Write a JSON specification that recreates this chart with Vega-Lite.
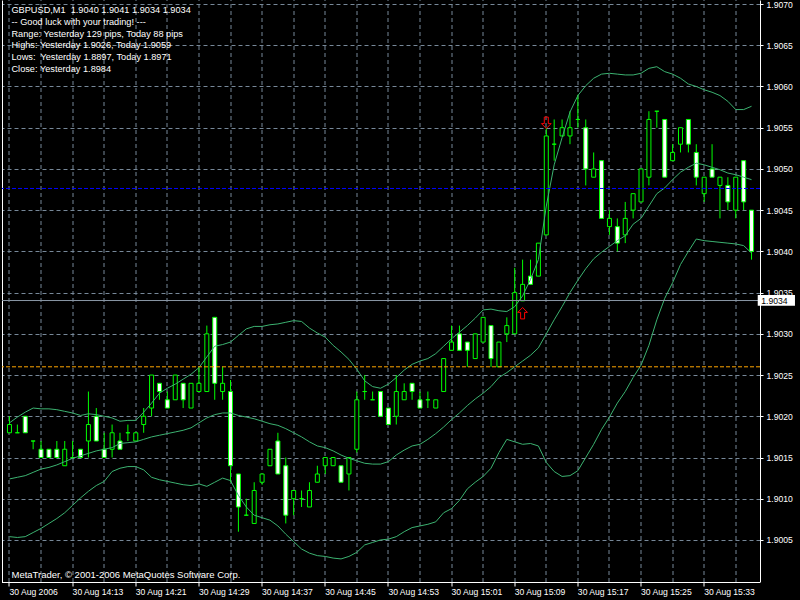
{
"$schema":"https://vega.github.io/schema/vega-lite/v6.json",
"width":758,"height":582,"autosize":"none",
"padding":{"left":2,"top":0,"right":40,"bottom":18},
"background":"#000000",
"config":{"view":{"stroke":null},"font":"Liberation Sans"},
"data":{"values":[
{"t":"2006-08-30 14:05","o":1.9018,"h":1.902,"l":1.9018,"c":1.9019,"u":1.90192,"m":1.90124,"d":1.90054},
{"t":"2006-08-30 14:06","o":1.9018,"h":1.9019,"l":1.9018,"c":1.9018,"u":1.90199,"m":1.90126,"d":1.90053},
{"t":"2006-08-30 14:07","o":1.902,"h":1.902,"l":1.9018,"c":1.9018,"u":1.90205,"m":1.90128,"d":1.90054},
{"t":"2006-08-30 14:08","o":1.9017,"h":1.9017,"l":1.9016,"c":1.9017,"u":1.9021,"m":1.90132,"d":1.90059},
{"t":"2006-08-30 14:09","o":1.9016,"h":1.9017,"l":1.9015,"c":1.9015,"u":1.90209,"m":1.90136,"d":1.90064},
{"t":"2006-08-30 14:10","o":1.9016,"h":1.9016,"l":1.9015,"c":1.9015,"u":1.90209,"m":1.90138,"d":1.9007},
{"t":"2006-08-30 14:11","o":1.9016,"h":1.9017,"l":1.9015,"c":1.9015,"u":1.90208,"m":1.90141,"d":1.90076},
{"t":"2006-08-30 14:12","o":1.9014,"h":1.9017,"l":1.9014,"c":1.9016,"u":1.90206,"m":1.90145,"d":1.90083},
{"t":"2006-08-30 14:13","o":1.9015,"h":1.9017,"l":1.9015,"c":1.9015,"u":1.90204,"m":1.90149,"d":1.90092},
{"t":"2006-08-30 14:14","o":1.9016,"h":1.9016,"l":1.9015,"c":1.9015,"u":1.90201,"m":1.90152,"d":1.90101},
{"t":"2006-08-30 14:15","o":1.9017,"h":1.9023,"l":1.9015,"c":1.9019,"u":1.90203,"m":1.90155,"d":1.90109},
{"t":"2006-08-30 14:16","o":1.902,"h":1.9021,"l":1.9017,"c":1.9017,"u":1.90202,"m":1.90158,"d":1.90116},
{"t":"2006-08-30 14:17","o":1.9016,"h":1.9018,"l":1.9015,"c":1.9015,"u":1.902,"m":1.9016,"d":1.90121},
{"t":"2006-08-30 14:18","o":1.9016,"h":1.9019,"l":1.9015,"c":1.9018,"u":1.90198,"m":1.90162,"d":1.90133},
{"t":"2006-08-30 14:19","o":1.9017,"h":1.9018,"l":1.9016,"c":1.9016,"u":1.90194,"m":1.90167,"d":1.90137},
{"t":"2006-08-30 14:20","o":1.9018,"h":1.9019,"l":1.9017,"c":1.9018,"u":1.90195,"m":1.90168,"d":1.90139},
{"t":"2006-08-30 14:21","o":1.9017,"h":1.9018,"l":1.9017,"c":1.9018,"u":1.90195,"m":1.90169,"d":1.90139},
{"t":"2006-08-30 14:22","o":1.9019,"h":1.9021,"l":1.9018,"c":1.902,"u":1.90205,"m":1.90172,"d":1.90135},
{"t":"2006-08-30 14:23","o":1.9021,"h":1.9025,"l":1.902,"c":1.9025,"u":1.90216,"m":1.90175,"d":1.90126},
{"t":"2006-08-30 14:24","o":1.9024,"h":1.9024,"l":1.9022,"c":1.9023,"u":1.90228,"m":1.90177,"d":1.90123},
{"t":"2006-08-30 14:25","o":1.9022,"h":1.9023,"l":1.9021,"c":1.9021,"u":1.90234,"m":1.90179,"d":1.90121},
{"t":"2006-08-30 14:26","o":1.9022,"h":1.9025,"l":1.9022,"c":1.9025,"u":1.90239,"m":1.90181,"d":1.90119},
{"t":"2006-08-30 14:27","o":1.9024,"h":1.9024,"l":1.9021,"c":1.9022,"u":1.90245,"m":1.90183,"d":1.90117},
{"t":"2006-08-30 14:28","o":1.9021,"h":1.9024,"l":1.9021,"c":1.9024,"u":1.90251,"m":1.90186,"d":1.90116},
{"t":"2006-08-30 14:29","o":1.9023,"h":1.9026,"l":1.9023,"c":1.9024,"u":1.90259,"m":1.90192,"d":1.90118},
{"t":"2006-08-30 14:30","o":1.9023,"h":1.9031,"l":1.9023,"c":1.903,"u":1.90272,"m":1.90198,"d":1.90115},
{"t":"2006-08-30 14:31","o":1.9032,"h":1.9032,"l":1.9022,"c":1.9024,"u":1.90285,"m":1.90202,"d":1.9012},
{"t":"2006-08-30 14:32","o":1.9023,"h":1.9026,"l":1.9022,"c":1.9024,"u":1.90287,"m":1.90204,"d":1.90125},
{"t":"2006-08-30 14:33","o":1.9023,"h":1.90244,"l":1.9012,"c":1.9014,"u":1.9029,"m":1.90204,"d":1.90122},
{"t":"2006-08-30 14:34","o":1.9013,"h":1.9013,"l":1.9006,"c":1.9009,"u":1.90298,"m":1.90201,"d":1.90104},
{"t":"2006-08-30 14:35","o":1.9008,"h":1.901,"l":1.9008,"c":1.9008,"u":1.90306,"m":1.90199,"d":1.9009},
{"t":"2006-08-30 14:36","o":1.9007,"h":1.9012,"l":1.9007,"c":1.9011,"u":1.90309,"m":1.90197,"d":1.9008},
{"t":"2006-08-30 14:37","o":1.9012,"h":1.9013,"l":1.90117,"c":1.9013,"u":1.90309,"m":1.90194,"d":1.90077},
{"t":"2006-08-30 14:38","o":1.9014,"h":1.9016,"l":1.9014,"c":1.9016,"u":1.90311,"m":1.90191,"d":1.90074},
{"t":"2006-08-30 14:39","o":1.9017,"h":1.9018,"l":1.9013,"c":1.9013,"u":1.90312,"m":1.90189,"d":1.90067},
{"t":"2006-08-30 14:40","o":1.9014,"h":1.9015,"l":1.9007,"c":1.9008,"u":1.90314,"m":1.90185,"d":1.90057},
{"t":"2006-08-30 14:41","o":1.901,"h":1.9011,"l":1.9008,"c":1.9011,"u":1.90316,"m":1.9018,"d":1.90048},
{"t":"2006-08-30 14:42","o":1.901,"h":1.9011,"l":1.9009,"c":1.901,"u":1.90315,"m":1.90175,"d":1.90039},
{"t":"2006-08-30 14:43","o":1.9009,"h":1.9012,"l":1.9009,"c":1.9011,"u":1.90307,"m":1.90169,"d":1.90034},
{"t":"2006-08-30 14:44","o":1.9012,"h":1.9014,"l":1.9012,"c":1.9013,"u":1.90301,"m":1.90164,"d":1.90031},
{"t":"2006-08-30 14:45","o":1.9014,"h":1.9015,"l":1.9013,"c":1.9015,"u":1.90296,"m":1.90162,"d":1.9003},
{"t":"2006-08-30 14:46","o":1.9014,"h":1.9015,"l":1.9014,"c":1.9015,"u":1.90286,"m":1.90158,"d":1.90028},
{"t":"2006-08-30 14:47","o":1.9014,"h":1.9014,"l":1.9012,"c":1.9012,"u":1.90278,"m":1.90153,"d":1.90027},
{"t":"2006-08-30 14:48","o":1.9013,"h":1.9015,"l":1.9011,"c":1.9015,"u":1.90269,"m":1.90149,"d":1.9003},
{"t":"2006-08-30 14:49","o":1.9016,"h":1.9023,"l":1.90156,"c":1.9022,"u":1.90257,"m":1.90146,"d":1.90035},
{"t":"2006-08-30 14:50","o":1.9023,"h":1.9025,"l":1.9022,"c":1.9023,"u":1.90243,"m":1.90143,"d":1.90044},
{"t":"2006-08-30 14:51","o":1.9022,"h":1.9023,"l":1.9022,"c":1.9022,"u":1.90236,"m":1.90142,"d":1.90047},
{"t":"2006-08-30 14:52","o":1.9023,"h":1.9023,"l":1.902,"c":1.902,"u":1.90234,"m":1.90142,"d":1.9005},
{"t":"2006-08-30 14:53","o":1.9021,"h":1.9021,"l":1.9019,"c":1.9019,"u":1.90239,"m":1.90145,"d":1.90051},
{"t":"2006-08-30 14:54","o":1.902,"h":1.9025,"l":1.9019,"c":1.9023,"u":1.90247,"m":1.90153,"d":1.90054},
{"t":"2006-08-30 14:55","o":1.9022,"h":1.9024,"l":1.9022,"c":1.9023,"u":1.90256,"m":1.90159,"d":1.9006},
{"t":"2006-08-30 14:56","o":1.9024,"h":1.9024,"l":1.9022,"c":1.9023,"u":1.90263,"m":1.90164,"d":1.90065},
{"t":"2006-08-30 14:57","o":1.9022,"h":1.9023,"l":1.9021,"c":1.9021,"u":1.90267,"m":1.90166,"d":1.90067},
{"t":"2006-08-30 14:58","o":1.9022,"h":1.9023,"l":1.9021,"c":1.9022,"u":1.9027,"m":1.90172,"d":1.90069},
{"t":"2006-08-30 14:59","o":1.9021,"h":1.9022,"l":1.9021,"c":1.9022,"u":1.90276,"m":1.90179,"d":1.90072},
{"t":"2006-08-30 15:00","o":1.9023,"h":1.9027,"l":1.9023,"c":1.9027,"u":1.90285,"m":1.90187,"d":1.90083},
{"t":"2006-08-30 15:01","o":1.9028,"h":1.9031,"l":1.9028,"c":1.9029,"u":1.90294,"m":1.90196,"d":1.90088},
{"t":"2006-08-30 15:02","o":1.903,"h":1.9031,"l":1.9028,"c":1.9028,"u":1.90302,"m":1.90204,"d":1.90098},
{"t":"2006-08-30 15:03","o":1.9029,"h":1.9029,"l":1.9026,"c":1.9028,"u":1.9031,"m":1.90213,"d":1.90112},
{"t":"2006-08-30 15:04","o":1.9027,"h":1.903,"l":1.9027,"c":1.903,"u":1.90319,"m":1.90221,"d":1.9012},
{"t":"2006-08-30 15:05","o":1.9029,"h":1.9032,"l":1.9029,"c":1.9032,"u":1.90329,"m":1.90228,"d":1.90127},
{"t":"2006-08-30 15:06","o":1.9031,"h":1.9031,"l":1.9026,"c":1.9027,"u":1.9033,"m":1.90236,"d":1.90137},
{"t":"2006-08-30 15:07","o":1.9026,"h":1.9029,"l":1.9026,"c":1.9029,"u":1.90328,"m":1.90247,"d":1.90156},
{"t":"2006-08-30 15:08","o":1.903,"h":1.9032,"l":1.9029,"c":1.9031,"u":1.90327,"m":1.90253,"d":1.90172},
{"t":"2006-08-30 15:09","o":1.903,"h":1.9038,"l":1.903,"c":1.9035,"u":1.90333,"m":1.9026,"d":1.90169},
{"t":"2006-08-30 15:10","o":1.9034,"h":1.9039,"l":1.9034,"c":1.9036,"u":1.90346,"m":1.90267,"d":1.90166},
{"t":"2006-08-30 15:11","o":1.9037,"h":1.9039,"l":1.9036,"c":1.9036,"u":1.90366,"m":1.90274,"d":1.90167},
{"t":"2006-08-30 15:12","o":1.9037,"h":1.9041,"l":1.9037,"c":1.9041,"u":1.9039,"m":1.90283,"d":1.90164},
{"t":"2006-08-30 15:13","o":1.9042,"h":1.9055,"l":1.9042,"c":1.9054,"u":1.90455,"m":1.903,"d":1.90144},
{"t":"2006-08-30 15:14","o":1.9053,"h":1.9056,"l":1.9051,"c":1.9053,"u":1.90505,"m":1.90317,"d":1.90133},
{"t":"2006-08-30 15:15","o":1.9054,"h":1.9056,"l":1.9054,"c":1.9055,"u":1.90538,"m":1.90333,"d":1.90127},
{"t":"2006-08-30 15:16","o":1.9054,"h":1.9057,"l":1.9053,"c":1.9055,"u":1.90569,"m":1.9035,"d":1.90128},
{"t":"2006-08-30 15:17","o":1.9056,"h":1.9059,"l":1.9055,"c":1.9056,"u":1.90589,"m":1.90365,"d":1.90134},
{"t":"2006-08-30 15:18","o":1.9055,"h":1.9056,"l":1.9048,"c":1.905,"u":1.90601,"m":1.90379,"d":1.9015},
{"t":"2006-08-30 15:19","o":1.9049,"h":1.9052,"l":1.9049,"c":1.905,"u":1.9061,"m":1.90391,"d":1.90166},
{"t":"2006-08-30 15:20","o":1.9051,"h":1.9051,"l":1.9044,"c":1.9044,"u":1.90615,"m":1.90399,"d":1.90184},
{"t":"2006-08-30 15:21","o":1.9043,"h":1.9045,"l":1.9042,"c":1.9044,"u":1.90616,"m":1.90406,"d":1.90199},
{"t":"2006-08-30 15:22","o":1.9043,"h":1.9044,"l":1.904,"c":1.9041,"u":1.90615,"m":1.90413,"d":1.90216},
{"t":"2006-08-30 15:23","o":1.9042,"h":1.9046,"l":1.9041,"c":1.9044,"u":1.90614,"m":1.90419,"d":1.9023},
{"t":"2006-08-30 15:24","o":1.9045,"h":1.9047,"l":1.9044,"c":1.9047,"u":1.90614,"m":1.90433,"d":1.90247},
{"t":"2006-08-30 15:25","o":1.9046,"h":1.905,"l":1.9046,"c":1.905,"u":1.90616,"m":1.9044,"d":1.90262},
{"t":"2006-08-30 15:26","o":1.9049,"h":1.9057,"l":1.9048,"c":1.9056,"u":1.90622,"m":1.90455,"d":1.90286},
{"t":"2006-08-30 15:27","o":1.9057,"h":1.9057,"l":1.9055,"c":1.9057,"u":1.90624,"m":1.9047,"d":1.90317},
{"t":"2006-08-30 15:28","o":1.9056,"h":1.9056,"l":1.9049,"c":1.9049,"u":1.90618,"m":1.90477,"d":1.90343},
{"t":"2006-08-30 15:29","o":1.9051,"h":1.9053,"l":1.9051,"c":1.9052,"u":1.90615,"m":1.90487,"d":1.90362},
{"t":"2006-08-30 15:30","o":1.9053,"h":1.9055,"l":1.9052,"c":1.9055,"u":1.9061,"m":1.90496,"d":1.90384},
{"t":"2006-08-30 15:31","o":1.9056,"h":1.9056,"l":1.9052,"c":1.9053,"u":1.90603,"m":1.90502,"d":1.904},
{"t":"2006-08-30 15:32","o":1.9052,"h":1.9053,"l":1.9048,"c":1.9049,"u":1.906,"m":1.90507,"d":1.90415},
{"t":"2006-08-30 15:33","o":1.9047,"h":1.9049,"l":1.9046,"c":1.9049,"u":1.90596,"m":1.90505,"d":1.90413},
{"t":"2006-08-30 15:34","o":1.905,"h":1.9053,"l":1.9049,"c":1.9049,"u":1.90593,"m":1.90502,"d":1.90412},
{"t":"2006-08-30 15:35","o":1.9048,"h":1.9049,"l":1.9044,"c":1.9049,"u":1.90589,"m":1.90499,"d":1.90411},
{"t":"2006-08-30 15:36","o":1.9048,"h":1.9049,"l":1.9045,"c":1.9046,"u":1.90582,"m":1.90495,"d":1.9041},
{"t":"2006-08-30 15:37","o":1.9045,"h":1.9049,"l":1.9044,"c":1.9049,"u":1.90572,"m":1.90493,"d":1.90409},
{"t":"2006-08-30 15:38","o":1.9051,"h":1.9051,"l":1.9045,"c":1.9046,"u":1.90572,"m":1.9049,"d":1.90407},
{"t":"2006-08-30 15:39","o":1.9045,"h":1.9045,"l":1.9039,"c":1.904,"u":1.90576,"m":1.90487,"d":1.90398}
]},
"layer":[
{"mark":{"type":"rule","color":"#00ff00","strokeWidth":1},
 "encoding":{
  "x":{"field":"t","type":"temporal","scale":{"domain":[{"year":2006,"month":"Aug","date":30,"hours":14,"minutes":4,"seconds":41,"milliseconds":250},{"year":2006,"month":"Aug","date":30,"hours":15,"minutes":39,"seconds":26,"milliseconds":250}]},
   "axis":{"orient":"bottom","values":[
     {"year":2006,"month":"Aug","date":30,"hours":14,"minutes":5},
     {"year":2006,"month":"Aug","date":30,"hours":14,"minutes":13},
     {"year":2006,"month":"Aug","date":30,"hours":14,"minutes":21},
     {"year":2006,"month":"Aug","date":30,"hours":14,"minutes":29},
     {"year":2006,"month":"Aug","date":30,"hours":14,"minutes":37},
     {"year":2006,"month":"Aug","date":30,"hours":14,"minutes":45},
     {"year":2006,"month":"Aug","date":30,"hours":14,"minutes":53},
     {"year":2006,"month":"Aug","date":30,"hours":15,"minutes":1},
     {"year":2006,"month":"Aug","date":30,"hours":15,"minutes":9},
     {"year":2006,"month":"Aug","date":30,"hours":15,"minutes":17},
     {"year":2006,"month":"Aug","date":30,"hours":15,"minutes":25},
     {"year":2006,"month":"Aug","date":30,"hours":15,"minutes":33}],
    "labelExpr":"timeFormat(datum.value, '%H:%M') == '14:05' ? '30 Aug 2006' : timeFormat(datum.value, '%d %b %H:%M')",
    "grid":false,"domain":true,"domainColor":"#ffffff","domainWidth":1,"ticks":true,"tickColor":"#ffffff","tickSize":4,"tickWidth":1,
    "labelColor":"#ffffff","labelFont":"Liberation Sans","labelFontSize":8.6,"labelAlign":"left","labelBaseline":"top","labelPadding":1.5,"labelDx":-1,
    "labelOverlap":false,"labelFlush":false,"labelBound":false,"title":null,"offset":0.5,"translate":0}},
  "y":{"field":"l","type":"quantitative","scale":{"domain":[1.89999,1.907049],"nice":false,"zero":false},
   "axis":{"orient":"right","values":[1.9005,1.901,1.9015,1.902,1.9025,1.903,1.9035,1.904,1.9045,1.905,1.9055,1.906,1.9065,1.907],
    "format":".4f","grid":true,"gridColor":"#778899","gridDash":[4,3],"gridWidth":1,"domainColor":"#ffffff","tickColor":"#ffffff","tickSize":3,
    "labelColor":"#ffffff","labelFont":"Liberation Sans","labelFontSize":8.6,"labelPadding":3,"labelOverlap":false,"labelBound":false,"labelFlush":false,"title":null,"zindex":0}},
  "y2":{"field":"h"}}},
{"mark":{"type":"bar","size":4,"stroke":"#00ff00","strokeWidth":1},
 "encoding":{
  "x":{"field":"t","type":"temporal","scale":{"domain":[{"year":2006,"month":"Aug","date":30,"hours":14,"minutes":4,"seconds":41,"milliseconds":250},{"year":2006,"month":"Aug","date":30,"hours":15,"minutes":39,"seconds":26,"milliseconds":250}]},
   "axis":{"orient":"top","values":[
     {"year":2006,"month":"Aug","date":30,"hours":14,"minutes":5},
     {"year":2006,"month":"Aug","date":30,"hours":14,"minutes":9},
     {"year":2006,"month":"Aug","date":30,"hours":14,"minutes":13},
     {"year":2006,"month":"Aug","date":30,"hours":14,"minutes":17},
     {"year":2006,"month":"Aug","date":30,"hours":14,"minutes":21},
     {"year":2006,"month":"Aug","date":30,"hours":14,"minutes":25},
     {"year":2006,"month":"Aug","date":30,"hours":14,"minutes":29},
     {"year":2006,"month":"Aug","date":30,"hours":14,"minutes":33},
     {"year":2006,"month":"Aug","date":30,"hours":14,"minutes":37},
     {"year":2006,"month":"Aug","date":30,"hours":14,"minutes":41},
     {"year":2006,"month":"Aug","date":30,"hours":14,"minutes":45},
     {"year":2006,"month":"Aug","date":30,"hours":14,"minutes":49},
     {"year":2006,"month":"Aug","date":30,"hours":14,"minutes":53},
     {"year":2006,"month":"Aug","date":30,"hours":14,"minutes":57},
     {"year":2006,"month":"Aug","date":30,"hours":15,"minutes":1},
     {"year":2006,"month":"Aug","date":30,"hours":15,"minutes":5},
     {"year":2006,"month":"Aug","date":30,"hours":15,"minutes":9},
     {"year":2006,"month":"Aug","date":30,"hours":15,"minutes":13},
     {"year":2006,"month":"Aug","date":30,"hours":15,"minutes":17},
     {"year":2006,"month":"Aug","date":30,"hours":15,"minutes":21},
     {"year":2006,"month":"Aug","date":30,"hours":15,"minutes":25},
     {"year":2006,"month":"Aug","date":30,"hours":15,"minutes":29},
     {"year":2006,"month":"Aug","date":30,"hours":15,"minutes":33},
     {"year":2006,"month":"Aug","date":30,"hours":15,"minutes":37}],
    "labels":false,"ticks":false,"domain":false,"grid":true,"gridColor":"#778899","gridDash":[4,3],"gridWidth":1,"title":null,"translate":0}},
  "y":{"field":"o","type":"quantitative","scale":{"domain":[1.89999,1.907049],"nice":false,"zero":false},
   "axis":{"orient":"left","labels":false,"ticks":false,"grid":false,"domain":true,"domainColor":"#ffffff","title":null}},
  "y2":{"field":"c"},
  "fill":{"condition":{"test":"datum.c < datum.o","value":"#ffffff"},"value":"#000000"}}},
{"mark":{"type":"line","color":"#3cb371","strokeWidth":1},
 "encoding":{
  "x":{"field":"t","type":"temporal","scale":{"domain":[{"year":2006,"month":"Aug","date":30,"hours":14,"minutes":4,"seconds":41,"milliseconds":250},{"year":2006,"month":"Aug","date":30,"hours":15,"minutes":39,"seconds":26,"milliseconds":250}]},"axis":null},
  "y":{"field":"u","type":"quantitative","scale":{"domain":[1.89999,1.907049],"nice":false,"zero":false},"axis":null}}},
{"mark":{"type":"line","color":"#3cb371","strokeWidth":1},
 "encoding":{
  "x":{"field":"t","type":"temporal","scale":{"domain":[{"year":2006,"month":"Aug","date":30,"hours":14,"minutes":4,"seconds":41,"milliseconds":250},{"year":2006,"month":"Aug","date":30,"hours":15,"minutes":39,"seconds":26,"milliseconds":250}]},"axis":null},
  "y":{"field":"m","type":"quantitative","scale":{"domain":[1.89999,1.907049],"nice":false,"zero":false},"axis":null}}},
{"mark":{"type":"line","color":"#3cb371","strokeWidth":1},
 "encoding":{
  "x":{"field":"t","type":"temporal","scale":{"domain":[{"year":2006,"month":"Aug","date":30,"hours":14,"minutes":4,"seconds":41,"milliseconds":250},{"year":2006,"month":"Aug","date":30,"hours":15,"minutes":39,"seconds":26,"milliseconds":250}]},"axis":null},
  "y":{"field":"d","type":"quantitative","scale":{"domain":[1.89999,1.907049],"nice":false,"zero":false},"axis":null}}},
{"data":{"values":[{}]},
 "mark":{"type":"rule","color":"#ffa500","strokeWidth":1,"strokeDash":[4,2]},
 "encoding":{"y":{"datum":1.9026,"type":"quantitative","scale":{"domain":[1.89999,1.907049],"nice":false,"zero":false},"axis":null}}},
{"data":{"values":[{}]},
 "mark":{"type":"rule","color":"#0000ff","strokeWidth":1,"strokeDash":[4,2]},
 "encoding":{"y":{"datum":1.904763,"type":"quantitative","scale":{"domain":[1.89999,1.907049],"nice":false,"zero":false},"axis":null}}},
{"data":{"values":[{}]},
 "mark":{"type":"rule","color":"#8a97a5","strokeWidth":1},
 "encoding":{"y":{"datum":1.903404,"type":"quantitative","scale":{"domain":[1.89999,1.907049],"nice":false,"zero":false},"axis":null}}},
{"data":{"values":[{"t":"2006-08-30 15:10","p":1.90325,"dir":"up"},{"t":"2006-08-30 15:13","p":1.90556,"dir":"down"}]},
 "mark":{"type":"point","filled":false,"stroke":"#ff0000","strokeWidth":1,"opacity":1,"size":130},
 "encoding":{
  "x":{"field":"t","type":"temporal","scale":{"domain":[{"year":2006,"month":"Aug","date":30,"hours":14,"minutes":4,"seconds":41,"milliseconds":250},{"year":2006,"month":"Aug","date":30,"hours":15,"minutes":39,"seconds":26,"milliseconds":250}]},"axis":null},
  "y":{"field":"p","type":"quantitative","scale":{"domain":[1.89999,1.907049],"nice":false,"zero":false},"axis":null},
  "shape":{"field":"dir","type":"nominal","scale":{"domain":["up","down"],"range":["M0,-1L0.85,-0.15L0.35,-0.15L0.35,1L-0.35,1L-0.35,-0.15L-0.85,-0.15Z","M0,1L0.85,0.15L0.35,0.15L0.35,-1L-0.35,-1L-0.35,0.15L-0.85,0.15Z"]},"legend":null}}},
{"data":{"values":[{}]},
 "mark":{"type":"text","align":"left","baseline":"alphabetic","dx":2,"dy":13,"font":"Liberation Sans","fontSize":9.2,"lineHeight":11.8,"color":"#ffffff"},
 "encoding":{
  "x":{"datum":{"year":2006,"month":"Aug","date":30,"hours":14,"minutes":5},"type":"temporal","scale":{"domain":[{"year":2006,"month":"Aug","date":30,"hours":14,"minutes":4,"seconds":41,"milliseconds":250},{"year":2006,"month":"Aug","date":30,"hours":15,"minutes":39,"seconds":26,"milliseconds":250}]},"axis":null},
  "y":{"datum":1.907049,"type":"quantitative","scale":{"domain":[1.89999,1.907049],"nice":false,"zero":false},"axis":null},
  "text":{"value":["GBPUSD,M1\u00a0 1.9040 1.9041 1.9034 1.9034","-- Good luck with your trading! ---","Range: Yesterday 129 pips, Today 88 pips","Highs: Yesterday 1.9026, Today 1.9059","Lows:\u00a0 Yesterday 1.8897, Today 1.8971","Close: Yesterday 1.8984"]}}},
{"data":{"values":[{}]},
 "mark":{"type":"text","align":"left","baseline":"alphabetic","dx":2,"dy":-4.5,"font":"Liberation Sans","fontSize":9.5,"color":"#ffffff"},
 "encoding":{
  "x":{"datum":{"year":2006,"month":"Aug","date":30,"hours":14,"minutes":5},"type":"temporal","scale":{"domain":[{"year":2006,"month":"Aug","date":30,"hours":14,"minutes":4,"seconds":41,"milliseconds":250},{"year":2006,"month":"Aug","date":30,"hours":15,"minutes":39,"seconds":26,"milliseconds":250}]},"axis":null},
  "y":{"datum":1.89999,"type":"quantitative","scale":{"domain":[1.89999,1.907049],"nice":false,"zero":false},"axis":null},
  "text":{"value":"MetaTrader, © 2001-2006 MetaQuotes Software Corp."}}},
{"data":{"values":[{}]},
 "mark":{"type":"rect","fill":"#ffffff"},
 "encoding":{
  "x":{"datum":{"year":2006,"month":"Aug","date":30,"hours":15,"minutes":39,"seconds":47},"type":"temporal","scale":{"domain":[{"year":2006,"month":"Aug","date":30,"hours":14,"minutes":4,"seconds":41,"milliseconds":250},{"year":2006,"month":"Aug","date":30,"hours":15,"minutes":39,"seconds":26,"milliseconds":250}]},"axis":null},
  "x2":{"datum":{"year":2006,"month":"Aug","date":30,"hours":15,"minutes":44,"seconds":30}},
  "y":{"datum":1.90347,"type":"quantitative","scale":{"domain":[1.89999,1.907049],"nice":false,"zero":false},"axis":null},
  "y2":{"datum":1.90334}}},
{"data":{"values":[{}]},
 "mark":{"type":"text","align":"left","baseline":"middle","dx":3.5,"font":"Liberation Sans","fontSize":8.6,"color":"#000000"},
 "encoding":{
  "x":{"datum":{"year":2006,"month":"Aug","date":30,"hours":15,"minutes":39,"seconds":47},"type":"temporal","scale":{"domain":[{"year":2006,"month":"Aug","date":30,"hours":14,"minutes":4,"seconds":41,"milliseconds":250},{"year":2006,"month":"Aug","date":30,"hours":15,"minutes":39,"seconds":26,"milliseconds":250}]},"axis":null},
  "y":{"datum":1.9034,"type":"quantitative","scale":{"domain":[1.89999,1.907049],"nice":false,"zero":false},"axis":null},
  "text":{"value":"1.9034"}}}
],
"resolve":{"axis":{"x":"independent","y":"independent"}}
}
